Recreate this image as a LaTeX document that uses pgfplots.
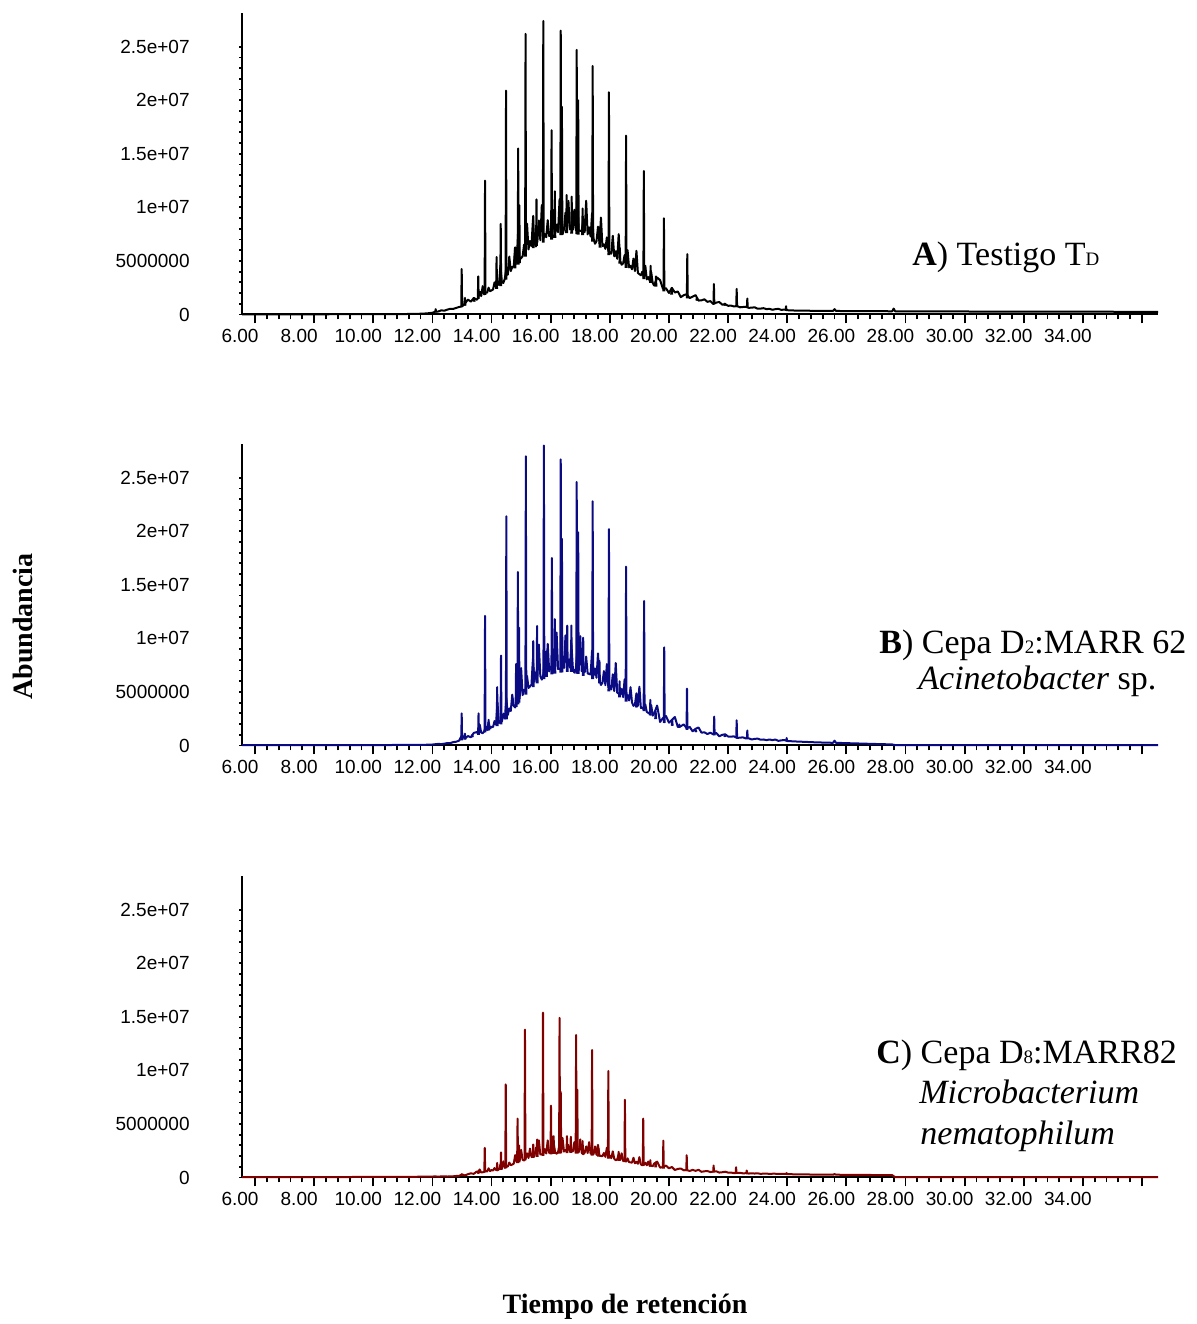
\documentclass[border=0pt]{standalone}
\usepackage{fontspec}
\setmainfont{Liberation Serif}
\newfontfamily\arialf{Liberation Sans}
\usepackage{pgfplots}
\usepackage{pgfplotstable}
\pgfplotsset{compat=1.18}

\definecolor{trazoB}{RGB}{10,10,130}
\definecolor{trazoC}{RGB}{128,0,0}
\newcommand\sm[1]{{\fontsize{9.5}{10}\selectfont #1}}

% Unresolved hump of the three chromatograms (abundance in millions)
\pgfplotstableread{
t A B C
5.56 0.02 0.04 0.04
8.0 0.02 0.04 0.04
10.0 0.03 0.04 0.05
11.0 0.04 0.05 0.06
11.5 0.06 0.06 0.07
11.8 0.10 0.07 0.08
12.0 0.16 0.09 0.09
12.1 0.27 0.12 0.10
12.2 0.28 0.15 0.08
12.3 0.39 0.13 0.10
12.4 0.35 0.17 0.11
12.5 0.45 0.22 0.09
12.6 0.53 0.22 0.11
12.7 0.52 0.31 0.11
12.8 0.61 0.35 0.14
12.9 0.70 0.45 0.15
13.0 0.76 0.96 0.29
13.1 1.02 0.65 0.19
13.2 1.39 0.88 0.31
13.3 1.20 0.77 0.39
13.4 1.55 1.18 0.34
13.5 1.37 1.25 0.56
13.55 1.55 1.10 0.42
13.6 2.13 1.95 0.75
13.65 1.72 1.20 0.47
13.7 2.65 1.15 0.49
13.75 1.88 1.31 0.52
13.8 2.05 1.77 0.64
13.85 2.03 1.43 0.56
13.9 2.50 2.20 0.86
13.95 2.18 1.58 0.60
14.0 2.25 1.75 0.69
14.05 2.33 1.72 0.65
14.1 3.00 2.28 0.88
14.15 2.58 1.95 0.71
14.2 3.11 4.02 0.67
14.25 2.75 2.11 0.77
14.3 4.58 2.17 1.19
14.35 3.00 2.25 0.81
14.4 2.95 2.98 1.51
14.45 3.35 2.50 0.90
14.5 4.40 4.43 1.04
14.55 3.70 2.85 1.02
14.6 5.41 3.46 1.40
14.65 4.05 3.22 1.15
14.7 4.44 4.74 1.21
14.75 4.48 3.68 1.29
14.8 6.27 3.55 2.09
14.85 4.82 4.05 1.44
14.9 7.85 5.82 1.74
14.95 5.12 4.37 1.56
15.0 5.27 7.24 2.58
15.05 5.42 4.70 1.66
15.1 6.53 5.19 1.58
15.15 5.75 5.05 1.74
15.2 8.48 6.50 2.26
15.25 6.07 5.37 1.82
15.3 6.86 5.52 2.70
15.35 6.40 5.68 1.91
15.4 8.86 8.11 2.11
15.45 6.66 5.96 2.00
15.5 6.35 6.84 2.79
15.55 6.81 6.23 2.08
15.6 8.78 9.42 3.47
15.65 6.93 6.46 2.15
15.7 10.21 6.15 2.17
15.75 7.06 6.61 2.19
15.8 7.51 8.20 2.66
15.85 7.21 6.76 2.24
15.9 8.80 9.49 3.46
15.95 7.33 6.91 2.28
16.0 7.38 7.36 2.60
16.05 7.43 7.03 2.33
16.1 9.76 8.98 3.25
16.15 7.56 7.10 2.36
16.2 8.39 10.54 2.22
16.25 7.68 7.14 2.38
16.3 10.77 7.16 3.14
16.35 7.81 7.18 2.40
16.4 7.50 8.34 3.69
16.45 7.93 7.22 2.42
16.5 9.50 10.28 2.57
16.55 7.97 7.26 2.43
16.6 10.61 8.04 3.04
16.65 7.94 7.27 2.44
16.7 8.31 9.53 2.44
16.75 7.91 7.22 2.43
16.8 9.78 6.80 3.31
16.85 7.87 7.13 2.40
16.9 11.27 8.98 2.68
16.95 7.83 7.03 2.37
17.0 7.81 10.21 3.55
17.05 7.80 6.93 2.34
17.1 8.92 7.26 2.18
17.15 7.68 6.83 2.32
17.2 10.62 8.30 2.90
17.25 7.48 6.73 2.28
17.3 8.14 6.68 3.30
17.35 7.28 6.63 2.23
17.4 9.46 8.86 2.35
17.45 7.08 6.51 2.18
17.5 6.60 7.19 2.90
17.55 6.84 6.32 2.11
17.6 8.20 8.60 3.05
17.65 6.60 6.08 2.04
17.7 9.05 5.65 2.01
17.75 6.38 5.85 1.99
17.8 6.55 6.95 2.29
17.85 6.13 5.63 1.93
17.9 7.20 7.60 2.78
17.95 5.90 5.40 1.87
18.0 5.80 5.60 2.06
18.05 5.68 5.23 1.81
18.1 7.35 6.65 2.44
18.15 5.43 5.08 1.75
18.2 5.90 7.70 1.61
18.25 5.20 4.93 1.69
18.3 7.50 4.85 2.21
18.35 4.99 4.74 1.63
18.4 4.65 5.28 2.26
18.45 4.77 4.52 1.55
18.5 5.55 6.18 1.60
18.55 4.57 4.35 1.50
18.6 6.01 4.71 1.79
18.65 4.40 4.20 1.44
18.7 4.54 5.44 1.41
18.75 4.22 4.02 1.39
18.8 5.22 3.70 1.84
18.85 4.05 3.85 1.33
18.9 5.95 4.87 1.46
18.95 3.87 3.70 1.28
19.0 3.77 5.49 1.90
19.05 3.66 3.51 1.23
19.1 4.00 3.55 1.14
19.15 3.45 3.32 1.18
19.2 4.55 3.83 1.38
19.25 3.28 3.14 1.14
19.3 3.50 3.05 1.49
19.35 3.13 2.96 1.09
19.4 3.95 3.77 1.12
19.45 2.95 2.79 1.05
19.5 2.70 3.00 1.30
19.6 3.45 3.73 1.48
19.7 3.21 2.20 0.92
19.8 2.38 2.57 0.98
19.9 2.45 2.75 1.11
20.0 2.01 2.13 0.86
20.1 2.48 2.39 0.98
20.2 2.05 2.66 0.70
20.3 2.15 1.72 0.80
20.4 1.62 1.80 0.84
20.5 1.80 1.97 0.67
20.6 1.90 1.60 0.70
20.7 1.53 1.74 0.61
20.8 1.67 1.33 0.71
20.9 1.81 1.56 0.62
21.0 1.30 1.68 0.72
21.1 1.32 1.20 0.53
21.2 1.42 1.23 0.58
21.3 1.18 1.07 0.60
21.4 1.25 1.20 0.51
21.5 0.98 1.04 0.55
21.6 1.11 1.17 0.58
21.7 1.17 0.86 0.46
21.8 0.92 0.99 0.49
21.9 0.97 1.05 0.54
22.0 0.81 0.84 0.46
22.1 0.83 0.83 0.46
22.2 0.75 0.85 0.41
22.3 0.80 0.71 0.43
22.4 0.67 0.73 0.44
22.5 0.70 0.76 0.39
22.6 0.72 0.66 0.40
22.7 0.62 0.67 0.37
22.8 0.64 0.56 0.39
22.9 0.67 0.62 0.37
23.0 0.54 0.64 0.39
23.1 0.55 0.54 0.34
23.2 0.59 0.56 0.36
23.3 0.50 0.50 0.37
23.4 0.53 0.56 0.33
23.5 0.44 0.50 0.35
23.6 0.50 0.56 0.35
23.7 0.53 0.43 0.33
23.8 0.43 0.48 0.33
23.9 0.46 0.51 0.35
24.0 0.40 0.42 0.31
24.25 0.37 0.38 0.30
24.5 0.36 0.35 0.29
24.75 0.35 0.32 0.28
25.0 0.34 0.29 0.27
25.3 0.33 0.27 0.26
25.55 0.33 0.25 0.26
25.6 0.50 0.45 0.32
25.65 0.33 0.25 0.26
26.0 0.32 0.22 0.25
26.5 0.31 0.18 0.24
27.0 0.31 0.14 0.23
27.55 0.30 0.10 0.22
27.6 0.55 0.06 0.12
27.65 0.30 0.04 0.04
28.0 0.30 0.04 0.04
30.0 0.28 0.04 0.04
32.0 0.27 0.04 0.04
34.0 0.26 0.04 0.04
36.54 0.25 0.04 0.04
}\hump

\pgfplotsset{
  chrom/.style={
    scale only axis, width=458pt, height=150.5pt,
    anchor=south west, clip=false,
    xmin=5.56, xmax=36.54, ymin=0, ymax=28.1,
    axis x line*=bottom, axis y line*=left,
    axis line style={line width=1pt},
    tick align=outside,
    xtick={6,8,...,36}, minor x tick num=4,
    xticklabels={6.00,8.00,10.00,12.00,14.00,16.00,18.00,20.00,22.00,24.00,26.00,28.00,30.00,32.00,34.00,{}},
    ytick={0,5,10,15,20,25}, minor y tick num=4,
    yticklabels={0,5000000,1e+07,1.5e+07,2e+07,2.5e+07},
    major tick length=4.5pt, minor tick length=2.5pt,
    every tick/.style={black, line width=0.9pt},
    ytick style={/pgfplots/major tick length=1.5pt, /pgfplots/minor tick length=1.5pt},
    tick label style={font=\arialf\fontsize{9.5}{11}\selectfont, inner sep=0pt},
    xticklabel style={anchor=north, xshift=-7.5pt, yshift=-2.5pt},
    yticklabel style={anchor=east, xshift=-21.5pt},
    unbounded coords=jump,
  },
  trazo/.style={line width=1pt, line join=round},
}
\tikzset{rotulo/.style={anchor=base west, inner sep=0pt, font=\fontsize{17}{20}\selectfont}}

\begin{document}
\begin{tikzpicture}[x=1pt,y=1pt]
\useasboundingbox (0,0) rectangle (598,662);

% A) control
\begin{axis}[chrom, at={(121pt,504.75pt)}]
\addplot[trazo, black] table[x=t, y=A] {\hump};
\addplot[trazo, black] coordinates {
(12.095,0.2)(12.11,0.5)(12.125,0.2)(12.13,nan)
(12.975,0.7)(12.99,4.25)(13.005,0.7)(13.01,nan)
(13.085,0.82)(13.1,1.55)(13.115,0.82)(13.12,nan)
(13.395,1.2)(13.41,1.5)(13.425,1.2)(13.43,nan)
(13.535,1.45)(13.55,3.56)(13.565,1.45)(13.57,nan)
(13.765,1.82)(13.78,12.5)(13.795,1.82)(13.8,nan)
(14.155,2.4)(14.17,5.36)(14.185,2.4)(14.19,nan)
(14.295,2.65)(14.31,8.46)(14.325,2.65)(14.33,nan)
(14.475,3.25)(14.49,20.9)(14.505,3.25)(14.51,nan)
(14.775,4.3)(14.79,6.2)(14.805,4.3)(14.81,nan)
(14.885,4.65)(14.9,15.5)(14.915,4.65)(14.92,nan)
(14.925,4.8)(14.94,10.2)(14.955,4.8)(14.96,nan)
(15.135,5.4)(15.15,26.2)(15.165,5.4)(15.17,nan)
(15.395,6.2)(15.41,9.2)(15.425,6.2)(15.43,nan)
(15.505,6.4)(15.52,10.75)(15.535,6.4)(15.54,nan)
(15.735,6.7)(15.75,27.4)(15.765,6.7)(15.77,nan)
(16.015,7.0)(16.03,17.2)(16.045,7.0)(16.05,nan)
(16.125,7.15)(16.14,11.5)(16.155,7.15)(16.16,nan)
(16.325,7.4)(16.34,26.5)(16.355,7.4)(16.36,nan)
(16.365,7.45)(16.38,19.4)(16.395,7.45)(16.4,nan)
(16.525,7.6)(16.54,11.15)(16.555,7.6)(16.56,nan)
(16.695,7.55)(16.71,11.0)(16.725,7.55)(16.73,nan)
(16.865,7.5)(16.88,24.7)(16.895,7.5)(16.9,nan)
(16.915,7.45)(16.93,20.0)(16.945,7.45)(16.95,nan)
(17.065,7.4)(17.08,9.9)(17.095,7.4)(17.1,nan)
(17.405,6.8)(17.42,23.2)(17.435,6.8)(17.44,nan)
(17.655,6.25)(17.67,7.9)(17.685,6.25)(17.69,nan)
(17.955,5.55)(17.97,20.75)(17.985,5.55)(17.99,nan)
(18.325,4.75)(18.34,6.2)(18.355,4.75)(18.36,nan)
(18.535,4.35)(18.55,16.7)(18.565,4.35)(18.57,nan)
(19.135,3.3)(19.15,13.4)(19.165,3.3)(19.17,nan)
(19.365,2.95)(19.38,4.55)(19.395,2.95)(19.4,nan)
(19.545,2.6)(19.56,3.56)(19.575,2.6)(19.58,nan)
(19.815,2.15)(19.83,8.98)(19.845,2.15)(19.85,nan)
(20.075,1.85)(20.09,2.48)(20.105,1.85)(20.11,nan)
(20.605,1.5)(20.62,5.64)(20.635,1.5)(20.64,nan)
(20.925,1.3)(20.94,1.49)(20.955,1.3)(20.96,nan)
(21.505,0.97)(21.52,2.85)(21.535,0.97)(21.54,nan)
(21.875,0.82)(21.89,1.02)(21.905,0.82)(21.91,nan)
(22.275,0.69)(22.29,2.39)(22.305,0.69)(22.31,nan)
(22.635,0.61)(22.65,1.49)(22.665,0.61)(22.67,nan)
(23.945,0.39)(23.96,0.77)(23.975,0.39)
};
\end{axis}

% B) strain D2:MARR 62
\begin{axis}[chrom, at={(121pt,289.25pt)}]
\addplot[trazo, trazoB] table[x=t, y=B] {\hump};
\addplot[trazo, trazoB] coordinates {
(12.975,0.47)(12.99,3.0)(13.005,0.47)(13.01,nan)
(13.085,0.55)(13.1,1.1)(13.115,0.55)(13.12,nan)
(13.335,0.78)(13.35,1.0)(13.365,0.78)(13.37,nan)
(13.545,1.0)(13.56,3.0)(13.575,1.0)(13.58,nan)
(13.765,1.22)(13.78,12.1)(13.795,1.22)(13.8,nan)
(13.885,1.4)(13.9,2.4)(13.915,1.4)(13.92,nan)
(14.175,1.8)(14.19,5.45)(14.205,1.8)(14.21,nan)
(14.305,1.98)(14.32,8.4)(14.335,1.98)(14.34,nan)
(14.485,2.45)(14.5,21.4)(14.515,2.45)(14.52,nan)
(14.815,3.6)(14.83,7.6)(14.845,3.6)(14.85,nan)
(14.875,3.85)(14.89,16.2)(14.905,3.85)(14.91,nan)
(14.915,4.0)(14.93,11.0)(14.945,4.0)(14.95,nan)
(15.145,4.75)(15.16,27.0)(15.175,4.75)(15.18,nan)
(15.395,5.45)(15.41,9.75)(15.425,5.45)(15.43,nan)
(15.525,5.8)(15.54,11.15)(15.555,5.8)(15.56,nan)
(15.755,6.2)(15.77,28.0)(15.785,6.2)(15.79,nan)
(15.845,6.4)(15.86,8.8)(15.875,6.4)(15.88,nan)
(16.025,6.65)(16.04,17.5)(16.055,6.65)(16.06,nan)
(16.125,6.72)(16.14,11.8)(16.155,6.72)(16.16,nan)
(16.325,6.8)(16.34,26.7)(16.355,6.8)(16.36,nan)
(16.365,6.82)(16.38,19.3)(16.395,6.82)(16.4,nan)
(16.545,6.88)(16.56,11.2)(16.575,6.88)(16.58,nan)
(16.685,6.87)(16.7,11.2)(16.715,6.87)(16.72,nan)
(16.865,6.72)(16.88,24.6)(16.895,6.72)(16.9,nan)
(16.915,6.68)(16.93,19.9)(16.945,6.68)(16.95,nan)
(17.085,6.5)(17.1,10.06)(17.115,6.5)(17.12,nan)
(17.405,6.2)(17.42,22.8)(17.435,6.2)(17.44,nan)
(17.635,5.8)(17.65,7.9)(17.665,5.8)(17.67,nan)
(17.955,5.05)(17.97,20.2)(17.985,5.05)(17.99,nan)
(18.315,4.5)(18.33,6.0)(18.345,4.5)(18.35,nan)
(18.535,4.1)(18.55,16.7)(18.565,4.1)(18.57,nan)
(18.885,3.55)(18.9,4.55)(18.915,3.55)(18.92,nan)
(19.145,3.2)(19.16,13.5)(19.175,3.2)(19.18,nan)
(19.355,2.8)(19.37,4.26)(19.385,2.8)(19.39,nan)
(19.535,2.46)(19.55,3.2)(19.565,2.46)(19.57,nan)
(19.825,2.1)(19.84,9.16)(19.855,2.1)(19.86,nan)
(20.095,1.84)(20.11,2.36)(20.125,1.84)(20.13,nan)
(20.335,1.65)(20.35,1.96)(20.365,1.65)(20.37,nan)
(20.595,1.45)(20.61,5.3)(20.625,1.45)(20.63,nan)
(20.895,1.25)(20.91,1.43)(20.925,1.25)(20.93,nan)
(21.515,0.95)(21.53,2.7)(21.545,0.95)(21.55,nan)
(21.875,0.8)(21.89,0.95)(21.905,0.8)(21.91,nan)
(22.275,0.7)(22.29,2.35)(22.305,0.7)(22.31,nan)
(22.635,0.62)(22.65,1.4)(22.665,0.62)(22.67,nan)
(23.965,0.4)(23.98,0.7)(23.995,0.4)
};
\end{axis}

% C) strain D8:MARR82
\begin{axis}[chrom, at={(121pt,73.25pt)}]
\addplot[trazo, trazoC] table[x=t, y=C] {\hump};
\addplot[trazo, trazoC] coordinates {
(12.975,0.15)(12.99,0.3)(13.005,0.15)(13.01,nan)
(13.545,0.38)(13.56,0.65)(13.575,0.38)(13.58,nan)
(13.755,0.47)(13.77,2.76)(13.785,0.47)(13.79,nan)
(14.175,0.67)(14.19,1.36)(14.205,0.67)(14.21,nan)
(14.305,0.72)(14.32,2.35)(14.335,0.72)(14.34,nan)
(14.465,0.85)(14.48,8.7)(14.495,0.85)(14.5,nan)
(14.865,1.35)(14.88,5.5)(14.895,1.35)(14.9,nan)
(14.915,1.42)(14.93,3.0)(14.945,1.42)(14.95,nan)
(15.115,1.6)(15.13,13.8)(15.145,1.6)(15.15,nan)
(15.395,1.83)(15.41,3.08)(15.425,1.83)(15.43,nan)
(15.525,1.92)(15.54,3.55)(15.555,1.92)(15.56,nan)
(15.725,2.03)(15.74,15.4)(15.755,2.03)(15.76,nan)
(15.995,2.15)(16.01,6.7)(16.025,2.15)(16.03,nan)
(16.085,2.2)(16.1,3.86)(16.115,2.2)(16.12,nan)
(16.285,2.24)(16.3,14.9)(16.315,2.24)(16.32,nan)
(16.325,2.25)(16.34,8.0)(16.355,2.25)(16.36,nan)
(16.535,2.28)(16.55,3.86)(16.565,2.28)(16.57,nan)
(16.665,2.29)(16.68,3.8)(16.695,2.29)(16.7,nan)
(16.845,2.24)(16.86,13.3)(16.875,2.24)(16.88,nan)
(16.885,2.23)(16.9,8.2)(16.915,2.23)(16.92,nan)
(17.065,2.18)(17.08,3.4)(17.095,2.18)(17.1,nan)
(17.385,2.05)(17.4,11.9)(17.415,2.05)(17.42,nan)
(17.605,1.95)(17.62,2.68)(17.635,1.95)(17.64,nan)
(17.935,1.76)(17.95,9.95)(17.965,1.76)(17.97,nan)
(18.285,1.55)(18.3,2.4)(18.315,1.55)(18.32,nan)
(18.495,1.43)(18.51,7.25)(18.525,1.43)(18.53,nan)
(19.115,1.13)(19.13,5.5)(19.145,1.13)(19.15,nan)
(19.355,1.02)(19.37,1.62)(19.385,1.02)(19.39,nan)
(19.535,0.95)(19.55,1.4)(19.565,0.95)(19.57,nan)
(19.795,0.83)(19.81,3.44)(19.825,0.83)(19.83,nan)
(20.585,0.6)(20.6,2.08)(20.615,0.6)(20.62,nan)
(21.495,0.48)(21.51,1.11)(21.525,0.48)(21.53,nan)
(22.255,0.4)(22.27,0.96)(22.285,0.4)(22.29,nan)
(22.615,0.37)(22.63,0.65)(22.645,0.37)(22.65,nan)
(23.965,0.3)(23.98,0.42)(23.995,0.3)
};
\end{axis}

% Panel captions
\node[rotulo] at (456,529) {\textbf{A}) Testigo T\sm{D}};
\node[rotulo] at (439.5,335) {\textbf{B}) Cepa D\sm{2}:MARR 62};
\node[rotulo] at (459,317) {\textit{Acinetobacter} sp.};
\node[rotulo] at (438,130) {\textbf{C}) Cepa D\sm{8}:MARR82};
\node[rotulo] at (459.5,110) {\textit{Microbacterium}};
\node[rotulo] at (460,89.5) {\textit{nematophilum}};

% Axis titles
\node[rotate=90, anchor=base, inner sep=0pt, font=\bfseries\fontsize{14}{16}\selectfont] at (16,348.75) {Abundancia};
\node[anchor=base, inner sep=0pt, font=\bfseries\fontsize{14}{16}\selectfont] at (312.5,5.3) {Tiempo de retención};
\end{tikzpicture}
\end{document}
